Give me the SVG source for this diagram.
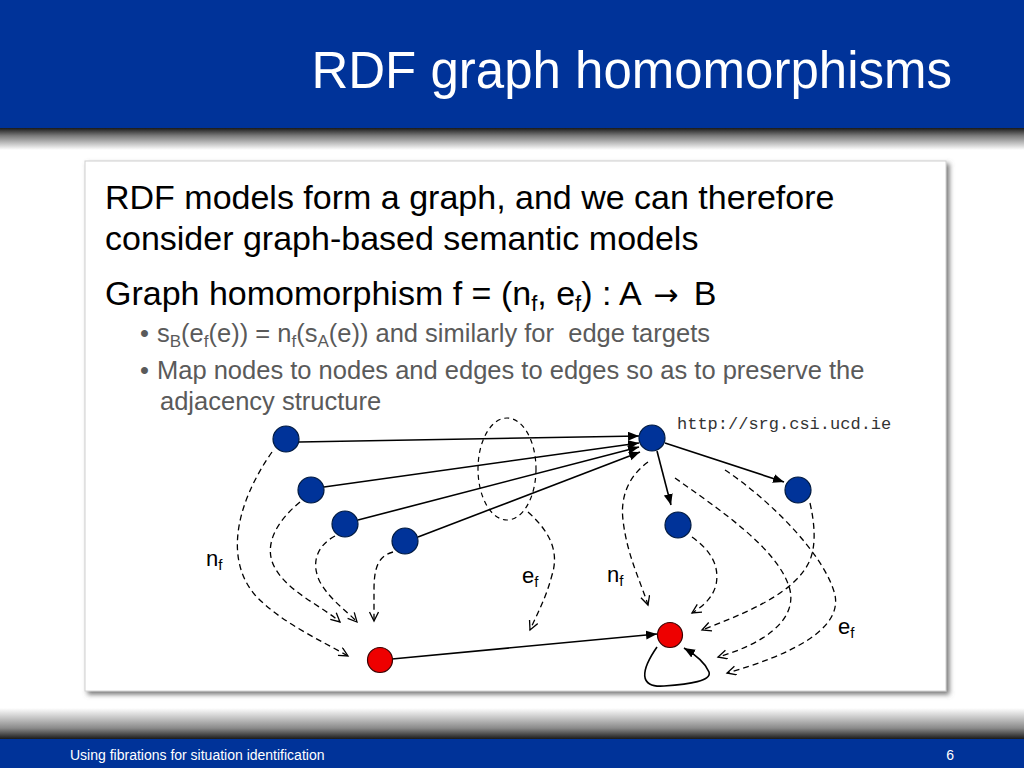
<svg xmlns="http://www.w3.org/2000/svg" width="1024" height="768" viewBox="0 0 1024 768">
<defs>
<linearGradient id="hdrShadow" x1="0" y1="0" x2="0" y2="1">
<stop offset="0" stop-color="#1a1a1a"/>
<stop offset="0.35" stop-color="#7a7a7a"/>
<stop offset="1" stop-color="#ffffff"/>
</linearGradient>
<linearGradient id="ftrShadow" x1="0" y1="0" x2="0" y2="1">
<stop offset="0" stop-color="#ffffff"/>
<stop offset="0.65" stop-color="#8a8a8a"/>
<stop offset="1" stop-color="#1a1a1a"/>
</linearGradient>
<filter id="boxShadow" x="-5%" y="-5%" width="110%" height="110%">
<feGaussianBlur in="SourceAlpha" stdDeviation="2.5"/>
<feOffset dx="3" dy="3" result="b"/>
<feFlood flood-color="#666666" flood-opacity="0.9"/>
<feComposite in2="b" operator="in"/>
<feMerge><feMergeNode/><feMergeNode in="SourceGraphic"/></feMerge>
</filter>
<marker id="arrowSolid" markerUnits="userSpaceOnUse" markerWidth="12" markerHeight="10" refX="11" refY="4.5" orient="auto">
<path d="M0,0 L11,4.5 L0,9 z" fill="#000"/>
</marker>
<marker id="arrowOpen" markerUnits="userSpaceOnUse" markerWidth="12" markerHeight="12" refX="10" refY="5" orient="auto">
<path d="M1,0.5 L10,5 L1,9.5" fill="none" stroke="#000" stroke-width="1.3"/>
</marker>
</defs>
<style>
.sans{font-family:"Liberation Sans",Arial,sans-serif}
.title{font-size:51px;fill:#ffffff}
.main{font-size:34px;fill:#000}
.sub1{font-size:25.5px;fill:#5a5a5a}
.lbl{font-size:22px;fill:#000}
.foot{font-size:14px;fill:#ffffff}
.url{font-family:"Liberation Mono","Courier New",monospace;font-size:17px;fill:#333}
.bnode{fill:#003399;stroke:#001a40;stroke-width:1.2}
.rnode{fill:#ee0000;stroke:#3a0000;stroke-width:1.2}
.edge{fill:none;stroke:#000;stroke-width:1.6;marker-end:url(#arrowSolid)}
.map{fill:none;stroke:#000;stroke-width:1.3;stroke-dasharray:6 4;marker-end:url(#arrowOpen)}
.ell{fill:none;stroke:#000;stroke-width:1.2;stroke-dasharray:5 4}
</style>
<rect x="0" y="0" width="1024" height="768" fill="#ffffff"/>
<!-- header -->
<rect x="0" y="0" width="1024" height="128" fill="#003399"/>
<rect x="0" y="128" width="1024" height="22" fill="url(#hdrShadow)"/>
<text class="sans title" x="952" y="88" text-anchor="end">RDF graph homomorphisms</text>
<!-- footer -->
<rect x="0" y="708" width="1024" height="31" fill="url(#ftrShadow)"/>
<rect x="0" y="739" width="1024" height="29" fill="#003399"/>
<text class="sans foot" x="70" y="760">Using fibrations for situation identification</text>
<text class="sans foot" x="954" y="760" text-anchor="end">6</text>
<!-- content box -->
<rect x="85" y="161" width="861" height="530" fill="#ffffff" stroke="#d0d0d0" stroke-width="1" filter="url(#boxShadow)"/>
<text class="sans main" x="105" y="209">RDF models form a graph, and we can therefore</text>
<text class="sans main" x="105" y="250">consider graph-based semantic models</text>
<text class="sans main" x="105" y="305">Graph homomorphism f = (n<tspan font-size="22" dy="6">f</tspan><tspan dy="-6">, e</tspan><tspan font-size="22" dy="6">f</tspan><tspan dy="-6">) : A </tspan><tspan dx="4" font-family="'DejaVu Sans',sans-serif" font-size="30">→</tspan><tspan dx="6"> B</tspan></text>
<text class="sans sub1" x="140" y="342">•</text>
<text class="sans sub1" x="157" y="342" xml:space="preserve">s<tspan font-size="17" dy="5">B</tspan><tspan dy="-5">(e</tspan><tspan font-size="17" dy="5">f</tspan><tspan dy="-5">(e)) = n</tspan><tspan font-size="17" dy="5">f</tspan><tspan dy="-5">(s</tspan><tspan font-size="17" dy="5">A</tspan><tspan dy="-5">(e)) and similarly for  edge targets</tspan></text>
<text class="sans sub1" x="140" y="379">•</text>
<text class="sans sub1" x="157" y="379">Map nodes to nodes and edges to edges so as to preserve the</text>
<text class="sans sub1" x="160" y="410">adjacency structure</text>
<text class="url" x="677" y="429">http://srg.csi.ucd.ie</text>
<!-- connectors -->
<g id="connectors">
<line class="edge" x1="299" y1="442" x2="639" y2="436"/>
<line class="edge" x1="324" y1="487" x2="639" y2="443"/>
<line class="edge" x1="358" y1="520" x2="639" y2="447"/>
<line class="edge" x1="418" y1="537" x2="640" y2="452"/>
<line class="edge" x1="665" y1="443" x2="784" y2="482"/>
<line class="edge" x1="657" y1="451" x2="671" y2="505"/>
<line class="edge" x1="392" y1="659" x2="657" y2="634"/>
<path class="edge" d="M657,647 C641,670 638,688 664,686 C690,684 712,681 709,672 C705,662 696,655 684,648"/>
<ellipse class="ell" cx="507" cy="469" rx="29" ry="51"/>
<path class="map" d="M272,452 C235,505 225,560 255,595 C280,622 320,640 348,656"/>
<path class="map" d="M300,502 C278,520 262,545 275,568 C288,592 322,606 340,622"/>
<path class="map" d="M335,536 C318,545 310,562 320,582 C330,600 346,610 357,622"/>
<path class="map" d="M393,552 C378,556 374,568 374,590 L374,621"/>
<path class="map" d="M528,512 C548,530 560,550 552,575 C546,598 538,612 530,630"/>
<path class="map" d="M648,462 C630,475 620,495 623,520 C627,555 640,580 648,605"/>
<path class="map" d="M692,537 C710,550 720,565 716,585 C712,600 700,608 692,613"/>
<path class="map" d="M810,503 C815,525 816,545 810,560 C795,595 740,615 702,630"/>
<path class="map" d="M675,478 C720,510 780,550 790,590 C797,622 760,645 718,657"/>
<path class="map" d="M725,470 C770,500 825,555 835,595 C842,630 790,655 727,673"/>
</g>
<!-- nodes -->
<g id="nodeA1"><circle class="bnode" cx="286" cy="439" r="13"/></g>
<g id="nodeA2"><circle class="bnode" cx="311" cy="490" r="13"/></g>
<g id="nodeA3"><circle class="bnode" cx="345" cy="524" r="13"/></g>
<g id="nodeA4"><circle class="bnode" cx="405" cy="541" r="13"/></g>
<g id="nodeHub"><circle class="bnode" cx="652" cy="438" r="13"/></g>
<g id="nodeA5"><circle class="bnode" cx="678" cy="525" r="13"/></g>
<g id="nodeA6"><circle class="bnode" cx="798" cy="490" r="13"/></g>
<g id="nodeB1"><circle class="rnode" cx="380" cy="660" r="12.5"/></g>
<g id="nodeB2"><circle class="rnode" cx="670" cy="635" r="12.5"/></g>
<!-- labels -->
<g id="labels">
<text class="sans lbl" x="206" y="566">n<tspan font-size="15" dy="4">f</tspan></text>
<text class="sans lbl" x="522" y="583">e<tspan font-size="15" dy="4">f</tspan></text>
<text class="sans lbl" x="607" y="582">n<tspan font-size="15" dy="4">f</tspan></text>
<text class="sans lbl" x="838" y="634">e<tspan font-size="15" dy="4">f</tspan></text>
</g>
</svg>
